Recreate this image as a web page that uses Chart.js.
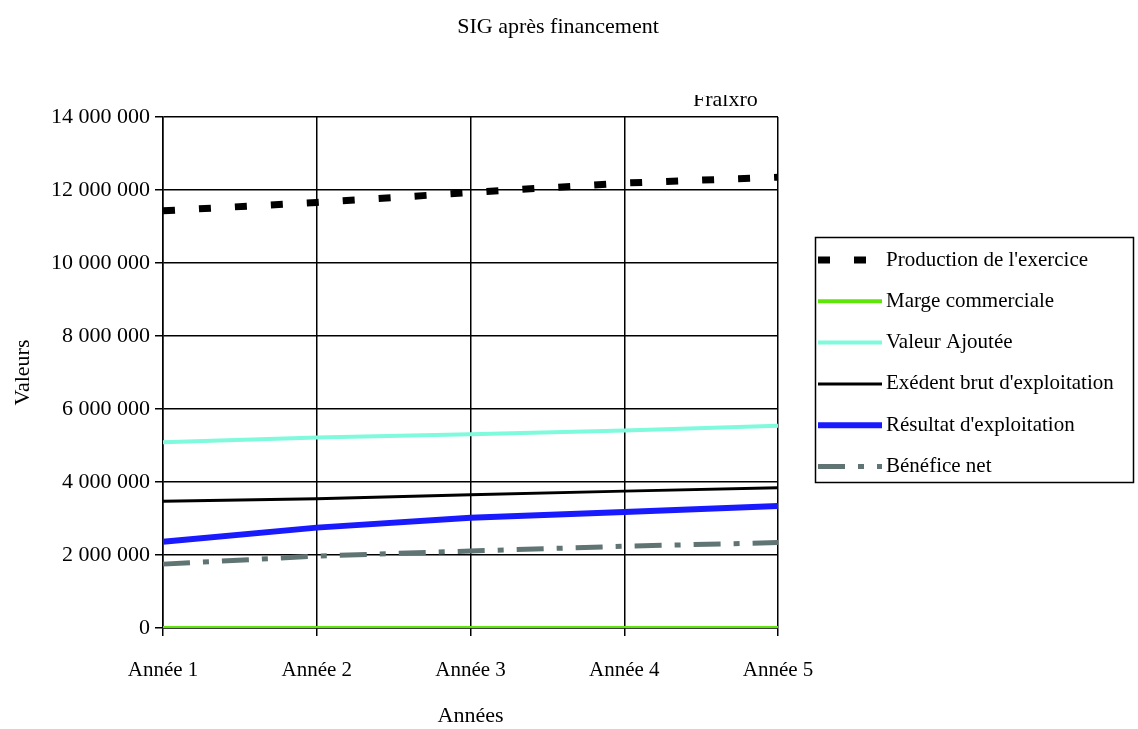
<!DOCTYPE html>
<html>
<head>
<meta charset="utf-8">
<script src="https://cdn.jsdelivr.net/npm/chart.js@4"></script>
<style>
  html, body { margin: 0; padding: 0; background: #fff; }
  #wrap { position: relative; width: 1138px; height: 729px; }
</style>
</head>
<body>
<div id="wrap"><canvas id="chartSIG" width="1138" height="729"></canvas></div>
<script>
// SIG après financement
const annees = ['Année 1', 'Année 2', 'Année 3', 'Année 4', 'Année 5'];
const production = [11430000, 11660000, 11930000, 12190000, 12350000];
const margeCommerciale = [0, 0, 0, 0, 0];
const valeurAjoutee = [5090000, 5220000, 5310000, 5410000, 5540000];
const ebe = [3470000, 3540000, 3650000, 3750000, 3840000];
const resultatExpl = [2360000, 2750000, 3020000, 3180000, 3340000];
const beneficeNet = [1750000, 1970000, 2110000, 2240000, 2340000];
const yTicks = [0, 2000000, 4000000, 6000000, 8000000, 10000000, 12000000, 14000000];

const FONT = "'Liberation Serif', 'Times New Roman', serif";

function fmt(v) {
  return String(v).replace(/\B(?=(\d{3})+(?!\d))/g, ' ');
}

// titre, texte tronqué et légende encadrée
const decor = {
  id: 'decor',
  afterDraw(chart) {
    const ctx = chart.ctx;
    ctx.save();
    ctx.fillStyle = '#000';
    ctx.font = '22px ' + FONT;
    ctx.textAlign = 'center';
    ctx.textBaseline = 'middle';
    ctx.fillText('SIG après financement', 558, 27);

    // texte coupé en haut
    ctx.save();
    ctx.beginPath();
    ctx.rect(680, 95, 100, 20);
    ctx.clip();
    ctx.textAlign = 'left';
    ctx.textBaseline = 'alphabetic';
    ctx.fillText('Fralxro', 693, 106);
    ctx.restore();

    // légende
    ctx.strokeStyle = '#000';
    ctx.lineWidth = 1.5;
    ctx.strokeRect(815.5, 237.5, 318, 245);
    ctx.font = '21px ' + FONT;
    ctx.textAlign = 'left';
    chart.data.datasets.forEach((ds, i) => {
      const y = 260 + i * 41.3;
      ctx.save();
      ctx.strokeStyle = ds.borderColor;
      ctx.lineWidth = ds.borderWidth;
      ctx.setLineDash(ds.borderDash || []);
      ctx.beginPath();
      ctx.moveTo(818, y);
      ctx.lineTo(882, y);
      ctx.stroke();
      ctx.restore();
      ctx.fillStyle = '#000';
      ctx.fillText(ds.label, 886, y);
    });
    ctx.restore();
  }
};

const ctxEl = document.getElementById('chartSIG');
new Chart(ctxEl, {
  type: 'line',
  data: {
    labels: annees,
    datasets: [
      { label: "Production de l'exercice", data: production, borderColor: '#000000', borderWidth: 7, borderDash: [12, 24] },
      { label: 'Marge commerciale', data: margeCommerciale, borderColor: '#5ee60a', borderWidth: 4 },
      { label: 'Valeur Ajoutée', data: valeurAjoutee, borderColor: '#7ffadc', borderWidth: 4 },
      { label: "Exédent brut d'exploitation", data: ebe, borderColor: '#000000', borderWidth: 3 },
      { label: "Résultat d'exploitation", data: resultatExpl, borderColor: '#1a1aff', borderWidth: 6 },
      { label: 'Bénéfice net', data: beneficeNet, borderColor: '#607473', borderWidth: 5, borderDash: [27, 13, 6, 13] }
    ]
  },
  options: {
    responsive: false,
    animation: false,
    layout: { padding: { top: 117, right: 360, left: 0, bottom: 0 } },
    elements: { point: { radius: 0 }, line: { tension: 0 } },
    plugins: { legend: { display: false }, title: { display: false }, tooltip: { enabled: false } },
    scales: {
      x: {
        offset: false,
        grid: { color: '#000', lineWidth: 1.5, tickLength: 8, drawTicks: true },
        border: { color: '#000', width: 1.5 },
        ticks: { color: '#000', padding: 22, font: { family: FONT, size: 21 }, maxRotation: 0 },
        title: { display: true, text: 'Années', color: '#000', font: { family: FONT, size: 22 }, padding: { top: 4, bottom: 0 } },
        afterFit(scale) { scale.height = 101; }
      },
      y: {
        min: 0,
        max: 14000000,
        afterBuildTicks(scale) { scale.ticks = yTicks.map(v => ({ value: v })); },
        grid: { color: '#000', lineWidth: 1.5, tickLength: 8 },
        border: { color: '#000', width: 1.5 },
        ticks: { color: '#000', padding: 5, font: { family: FONT, size: 22 }, callback: v => fmt(v) },
        title: { display: true, text: 'Valeurs', color: '#000', font: { family: FONT, size: 22 }, padding: { top: 10, bottom: 4 } },
        afterFit(scale) { scale.width = 163; }
      }
    }
  },
  plugins: [decor]
});
</script>
</body>
</html>
